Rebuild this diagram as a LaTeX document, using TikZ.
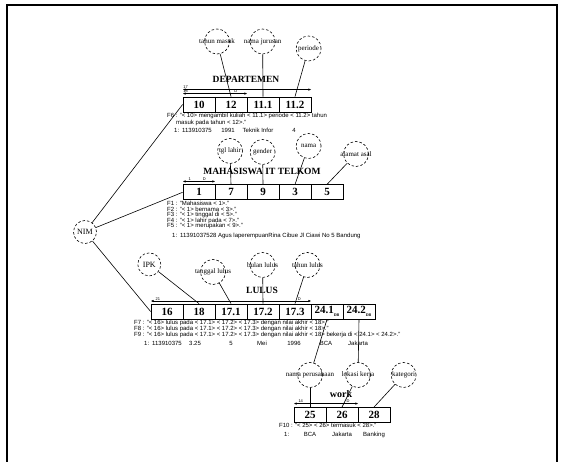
\documentclass[tikz,border=0pt]{standalone}
\usepackage{fontspec}
\setmainfont{Liberation Serif}
\setsansfont{Liberation Sans}
\usetikzlibrary{arrows.meta}

\tikzset{
    cell/.style={draw, line width=0.8pt, minimum width=32pt, minimum height=15pt, inner sep=0pt, font=\bfseries\fontsize{11}{11}\selectfont},
    attr/.style={draw, dash pattern=on 2.5pt off 2pt, circle, minimum size=25pt, inner sep=0pt, line width=0.6pt},
    attrtext/.style={font=\fontsize{7}{7}\selectfont, inner sep=0pt},
    keytext/.style={font=\fontsize{8}{8}\selectfont, inner sep=0pt},
    title/.style={font=\bfseries\fontsize{9.5}{9.5}\selectfont, inner sep=0pt},
    fline/.style={anchor=west, inner sep=0pt, font=\sffamily\fontsize{6}{6}\selectfont, text height=4.3pt, text depth=1.2pt},
    val/.style={inner sep=0pt, font=\sffamily\fontsize{6}{6}\selectfont, text height=4.3pt, text depth=1.2pt},
    dep/.style={{Latex[length=3pt,width=2.4pt]}-{Latex[length=3pt,width=2.4pt]}, line width=0.6pt},
    tag/.style={font=\sffamily\fontsize{4}{4}\selectfont, inner sep=0.4pt},
    link/.style={line width=0.6pt},
}
\newcommand{\dbsub}{\raisebox{-2.5pt}{\fontsize{4}{4}\selectfont DB}}

\begin{document}
\begin{tikzpicture}[x=1pt, y=-1pt]
    \useasboundingbox (0,0) rectangle (564,462);
    \draw[line width=2.5pt] (7,462) -- (7,5) -- (557,5) -- (557,462);

    % DEPARTEMEN
    \node[title] (dep) at (246,79) {DEPARTEMEN};
    \node[cell] (c10)  at (199,104.5) {10};
    \node[cell] (c12)  at (231,104.5) {12};
    \node[cell] (c111) at (263,104.5) {11.1};
    \node[cell] (c112) at (295,104.5) {11.2};

    \node[attr, label={[attrtext]center:tahun masuk}]  (thnmasuk) at (217,41.5) {};
    \node[attr, label={[attrtext]center:nama jurusan}] (jurusan)  at (262.6,41.5) {};
    \node[attr, label={[attrtext]center:periode}]      (periode)  at (308.6,48.5) {};

    \draw[link] (thnmasuk) -- (c12.north);
    \draw[link] (jurusan) -- (c111.north);
    \draw[link] (periode) -- (c112.north);

    \draw[dep] ([yshift=7pt]c10.north west) -- ([yshift=7pt]c112.north east)
        node[tag, at start, above right] {17};
    \draw[dep] ([yshift=3pt]c10.north west) -- ([yshift=3pt]c12.north east)
        node[tag, at start, above right] {18} node[tag, pos=0.82, above] {D};

    \node[fline] (f6a) at (167,116)   {F6 : "< 10> mengambil kuliah < 11.1> periode < 11.2> tahun};
    \node[fline] (f6b) at (176,122.7) {masuk pada tahun < 12>."};
    \node[fline] (d1)  at (174,131)   {1:\enspace 113910375};
    \node[val]   (d2)  at (228,131)   {1991};
    \node[val]   (d3)  at (258,131)   {Teknik Infor};
    \node[val]   (d4)  at (294,131)   {4};

    % MAHASISWA IT TELKOM
    \node[title] (mhs) at (262,171) {MAHASISWA IT TELKOM};
    \node[cell] (c1) at (199,192.3) {1};
    \node[cell] (c7) at (231,192.3) {7};
    \node[cell] (c9) at (263,192.3) {9};
    \node[cell] (c3) at (295,192.3) {3};
    \node[cell] (c5) at (327,192.3) {5};

    \node[attr, label={[attrtext]center:tgl lahir}]   (tgllahir) at (230,151) {};
    \node[attr, label={[attrtext]center:gender}]      (gender)   at (262.6,152) {};
    \node[attr, label={[attrtext]center:nama}]        (nama)     at (308.6,146) {};
    \node[attr, label={[attrtext]center:alamat asal}] (alamat)   at (356,154) {};

    \draw[link] (tgllahir) -- (c7.north);
    \draw[link] (gender) -- (c9.north);
    \draw[link] (nama) -- (c3.north);
    \draw[link] (alamat) -- (c5.north);

    \draw[dep] ([yshift=3pt]c1.north west) -- ([yshift=3pt]c1.north east)
        node[tag, pos=0.22, above] {1} node[tag, pos=0.66, above] {D};

    \node[fline] (f1) at (167,204)   {F1 : "Mahasiswa < 1>."};
    \node[fline] (f2) at (167,209.5) {F2 : "< 1> bernama < 3>."};
    \node[fline] (f3) at (167,215)   {F3 : "< 1> tinggal di < 5>."};
    \node[fline] (f4) at (167,220.5) {F4 : "< 1> lahir pada < 7>."};
    \node[fline] (f5) at (167,226)   {F5 : "< 1> merupakan < 9>."};
    \node[fline] (m1) at (172,236)   {1:\enspace 11391037528 Agus laperempuanRina Cibue Jl Ciawi No 5 Bandung};

    % NIM
    \node[attr, minimum size=23pt, label={[keytext]center:NIM}] (nim) at (85,232) {};

    % LULUS
    \node[title] (lulus) at (262,290) {LULUS};
    \node[cell] (c16)  at (167,311.5) {16};
    \node[cell] (c18)  at (199,311.5) {18};
    \node[cell] (c171) at (231,311.5) {17.1};
    \node[cell] (c172) at (263,311.5) {17.2};
    \node[cell] (c173) at (295,311.5) {17.3};
    \node[cell] (c241) at (327,311.5) {24.1\dbsub};
    \node[cell] (c242) at (359,311.5) {24.2\dbsub};

    \node[attr, minimum size=23pt, label={[keytext]center:IPK}] (ipk) at (149.3,264.4) {};
    \node[attr, label={[attrtext]center:tanggal lulus}] (tgllulus) at (213,272) {};
    \node[attr, label={[attrtext]center:bulan lulus}]   (blnlulus) at (262.6,265) {};
    \node[attr, label={[attrtext]center:tahun lulus}]   (thnlulus) at (307.5,265) {};

    \draw[link] (ipk) -- (c18.north);
    \draw[link] (tgllulus) -- (c171.north);
    \draw[link] (blnlulus) -- (c172.north);
    \draw[link] (thnlulus) -- (c173.north);

    \draw[dep] ([yshift=2.6pt]c16.north west) -- ([yshift=2.6pt]c173.north east)
        node[tag, pos=0.045, above] {21} node[tag, pos=0.925, above] {D};

    \draw[link] (nim) -- (c10.west);
    \draw[link] (nim) -- (c1.west);
    \draw[link] (nim) -- (c16.west);

    \node[fline] (f7) at (134,323) {F7 : "< 16> lulus pada < 17.1> < 17.2> < 17.3> dengan nilai akhir < 18>."};
    \node[fline] (f8) at (134,329) {F8 : "< 16> lulus pada < 17.1> < 17.2> < 17.3> dengan nilai akhir < 18>."};
    \node[fline] (f9) at (134,335) {F9 : "< 16> lulus pada < 17.1> < 17.2> < 17.3> dengan nilai akhir < 18> bekerja di < 24.1> < 24.2>."};
    \node[fline] (l1) at (144,343.5) {1:\enspace 113910375};
    \node[val]   (l2) at (195,343.5) {3.25};
    \node[val]   (l3) at (231,343.5) {5};
    \node[val]   (l4) at (262,343.5) {Mei};
    \node[val]   (l5) at (294,343.5) {1996};
    \node[val]   (l6) at (326,343.5) {BCA};
    \node[val]   (l7) at (358,343.5) {Jakarta};

    % work
    \node[title, font=\bfseries\fontsize{10}{10}\selectfont] (work) at (341,394.5) {work};
    \node[cell] (c25) at (310,415) {25};
    \node[cell] (c26) at (342,415) {26};
    \node[cell] (c28) at (374,415) {28};

    \node[attr, label={[attrtext]center:nama perusahaan}] (perusahaan) at (310,375) {};
    \node[attr, label={[attrtext]center:lokasi kerja}]    (lokasi)     at (358,375) {};
    \node[attr, label={[attrtext]center:kategori}]        (kategori)   at (403.6,375) {};

    \draw[link] (c241.south) -- (perusahaan);
    \draw[link] (c242.south) -- (lokasi);
    \draw[link] (perusahaan) -- (c25.north);
    \draw[link] (lokasi) -- (c26.north);
    \draw[link] (kategori) -- (c28.north);

    \draw[dep] ([yshift=3.5pt]c25.north west) -- ([yshift=3.5pt]c26.north east)
        node[tag, pos=0.11, above] {14} node[tag, pos=0.84, above] {D};

    \node[fline] (f10) at (279,426)   {F10 : "< 25> < 26> termasuk < 28>."};
    \node[fline] (w1)  at (284,434.5) {1:};
    \node[val]   (w2)  at (310,434.5) {BCA};
    \node[val]   (w3)  at (342,434.5) {Jakarta};
    \node[val]   (w4)  at (374,434.5) {Banking};
\end{tikzpicture}
\end{document}
